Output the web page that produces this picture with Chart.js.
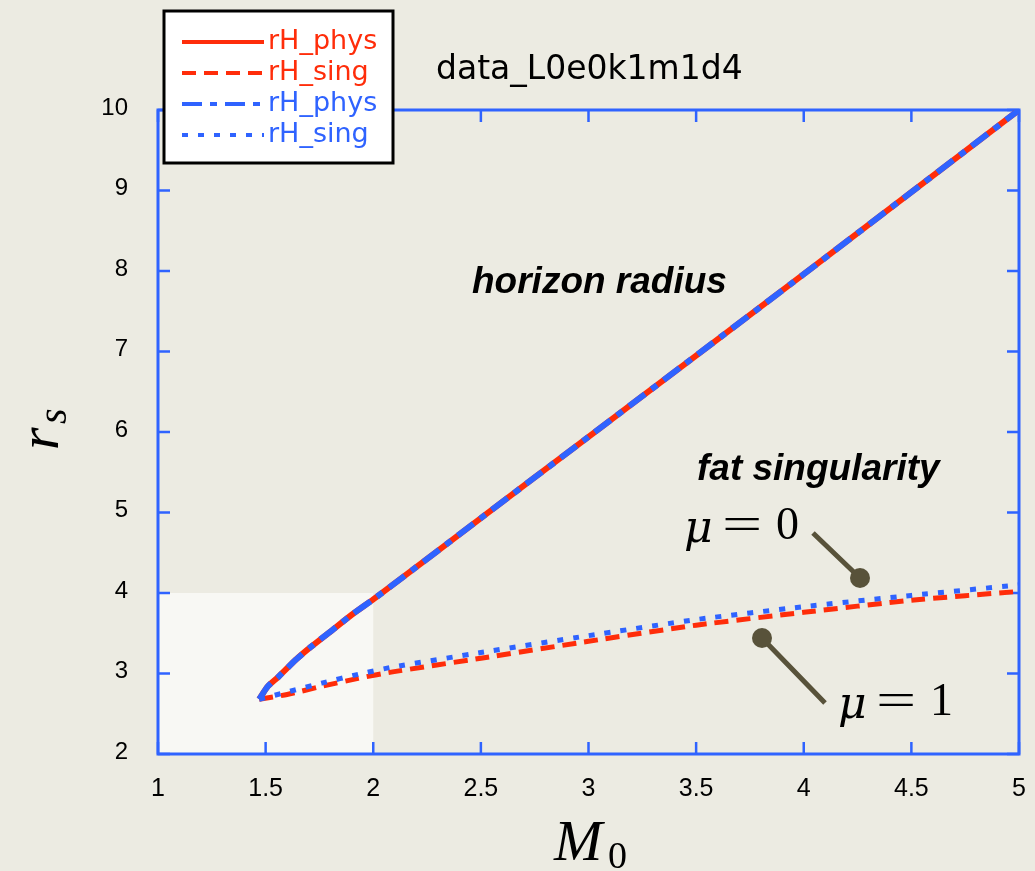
<!DOCTYPE html>
<html>
<head>
<meta charset="utf-8">
<script src="https://cdn.jsdelivr.net/npm/chart.js@4"></script>
<style>
  html, body { margin: 0; padding: 0; background: #ecebe2; }
  #wrap { width: 1035px; height: 871px; }
</style>
</head>
<body>
<div id="wrap"><canvas id="chart" width="1035" height="871"></canvas></div>
<script>
// horizon radius branch (rH_phys), red solid and blue dash-dot
const physM = [1.47, 1.51, 1.56, 1.64, 1.71, 1.81, 1.9, 2.0, 2.09, 2.5, 3.0, 3.5, 4.0, 4.5, 5.0];
const physRedR = [2.68, 2.84, 2.96, 3.17, 3.33, 3.54, 3.73, 3.92, 4.1, 4.93, 5.94, 6.95, 7.96, 8.98, 10.0];
const physBlueR = [2.68, 2.84, 2.96, 3.17, 3.33, 3.54, 3.73, 3.92, 4.1, 4.93, 5.94, 6.95, 7.96, 8.98, 10.0];
// fat singularity branch (rH_sing)
const singM = [1.47, 1.6, 1.76, 1.93, 2.09, 2.5, 3.0, 3.5, 4.0, 4.5, 5.0];
const singRedR = [2.68, 2.74, 2.84, 2.94, 3.02, 3.19, 3.4, 3.6, 3.76, 3.91, 4.02];
const singBlueR = [2.68, 2.77, 2.88, 2.99, 3.08, 3.26, 3.47, 3.67, 3.83, 3.97, 4.1];

const legendLabels = ['rH_phys', 'rH_sing', 'rH_phys', 'rH_sing'];
const RED = '#ff2d0a';
const BLUE = '#2f63ff';

const pts = (xs, ys) => xs.map((x, i) => ({ x: x, y: ys[i] }));

const paper = {
  id: 'paper',
  beforeDraw(chart) {
    const { ctx, scales: { x, y } } = chart;
    ctx.save();
    ctx.fillStyle = '#ecebe2';
    ctx.fillRect(0, 0, chart.width, chart.height);
    // light patch in the lower left
    ctx.fillStyle = '#f8f8f4';
    const x0 = x.getPixelForValue(1), x1 = x.getPixelForValue(2);
    const y0 = y.getPixelForValue(4), y1 = y.getPixelForValue(2);
    ctx.fillRect(x0, y0, x1 - x0, y1 - y0);
    ctx.restore();
  },
  beforeDatasetsDraw(chart) {
    const { ctx, chartArea: a, scales: { x, y } } = chart;
    ctx.save();
    ctx.strokeStyle = BLUE;
    ctx.lineWidth = 3;
    ctx.strokeRect(a.left, a.top, a.right - a.left, a.bottom - a.top);
    ctx.lineWidth = 2.5;
    const len = 12;
    ctx.beginPath();
    x.ticks.forEach(t => {
      const px = x.getPixelForValue(t.value);
      ctx.moveTo(px, a.bottom); ctx.lineTo(px, a.bottom - len);
      ctx.moveTo(px, a.top); ctx.lineTo(px, a.top + len);
    });
    y.ticks.forEach(t => {
      const py = y.getPixelForValue(t.value);
      ctx.moveTo(a.left, py); ctx.lineTo(a.left + len, py);
      ctx.moveTo(a.right, py); ctx.lineTo(a.right - len, py);
    });
    ctx.stroke();
    ctx.restore();
  },
  afterDraw(chart) {
    const { ctx } = chart;
    ctx.save();
    // title
    ctx.fillStyle = '#000';
    ctx.font = '33px "DejaVu Sans"';
    ctx.textBaseline = 'middle';
    ctx.fillText('data_L0e0k1m1d4', 436, 70);

    ctx.font = 'bold italic 37px "Liberation Sans"';
    ctx.fillText('horizon radius', 472, 283);
    ctx.fillText('fat singularity', 697, 470);

    // mu labels
    const mu = (val, x0, y0) => {
      ctx.font = 'italic 44px "DejaVu Serif"';
      ctx.fillText('\u03bc', x0, y0 + 4);
      ctx.font = '46px "Liberation Serif"';
      ctx.save();
      ctx.translate(x0 + 38, y0);
      ctx.scale(1.55, 1);
      ctx.fillText('=', 0, 0);
      ctx.restore();
      ctx.fillText(val, x0 + 92, y0);
    };
    mu('0', 684, 527);
    mu('1', 838, 703);

    // pointers
    ctx.strokeStyle = '#58523a';
    ctx.fillStyle = '#58523a';
    ctx.lineWidth = 5;
    ctx.beginPath();
    ctx.moveTo(813, 533); ctx.lineTo(860, 578);
    ctx.moveTo(762, 638); ctx.lineTo(825, 703);
    ctx.stroke();
    [[860, 578], [762, 638]].forEach(p => {
      ctx.beginPath(); ctx.arc(p[0], p[1], 10, 0, Math.PI * 2); ctx.fill();
    });

    // axis titles
    ctx.fillStyle = '#000';
    ctx.font = 'italic 58px "Liberation Serif"';
    ctx.textBaseline = 'alphabetic';
    ctx.fillText('M', 554, 860);
    ctx.font = '38px "Liberation Serif"';
    ctx.fillText('0', 608, 868);
    ctx.save();
    ctx.translate(58, 450);
    ctx.rotate(-Math.PI / 2);
    ctx.font = 'italic 58px "Liberation Serif"';
    ctx.fillText('r', 0, 0);
    ctx.font = 'italic 40px "Liberation Serif"';
    ctx.fillText('s', 26, 8);
    ctx.restore();

    // legend
    ctx.fillStyle = '#ffffff';
    ctx.fillRect(164, 11, 229, 152);
    ctx.strokeStyle = '#000';
    ctx.lineWidth = 3;
    ctx.strokeRect(164, 11, 229, 152);
    ctx.font = '27px "DejaVu Sans"';
    ctx.textBaseline = 'middle';
    chart.data.datasets.forEach((ds, i) => {
      const yy = 42 + i * 31;
      ctx.strokeStyle = ds.borderColor;
      ctx.lineWidth = 4;
      ctx.setLineDash(ds.borderDash || []);
      ctx.beginPath(); ctx.moveTo(182, yy); ctx.lineTo(264, yy); ctx.stroke();
      ctx.setLineDash([]);
      ctx.fillStyle = ds.borderColor;
      ctx.fillText(legendLabels[i], 268, yy);
    });
    ctx.restore();
  }
};

new Chart(document.getElementById('chart'), {
  type: 'line',
  data: {
    datasets: [
      { label: legendLabels[0], data: pts(physM, physRedR), borderColor: RED, borderWidth: 6, order: 4 },
      { label: legendLabels[1], data: pts(singM, singRedR), borderColor: RED, borderWidth: 5, borderDash: [14, 8], order: 3 },
      { label: legendLabels[2], data: pts(physM, physBlueR), borderColor: BLUE, borderWidth: 6, borderDash: [20, 8, 7, 8], order: 2 },
      { label: legendLabels[3], data: pts(singM, singBlueR), borderColor: BLUE, borderWidth: 5, borderDash: [6, 10], order: 1 }
    ]
  },
  options: {
    responsive: false,
    animation: false,
    layout: { padding: { top: 110, right: 16, bottom: 0, left: 0 } },
    elements: { point: { radius: 0 }, line: { tension: 0.2, fill: false, borderCapStyle: 'butt' } },
    plugins: { legend: { display: false }, tooltip: { enabled: false } },
    scales: {
      x: {
        type: 'linear', min: 1, max: 5,
        grid: { display: false }, border: { display: false },
        ticks: { stepSize: 0.5, padding: 12, color: '#000', font: { family: 'Liberation Sans', size: 25 },
                 callback: v => String(v) },
        afterFit: s => { s.height = 117; s.paddingRight = 0; s.paddingLeft = 0; }
      },
      y: {
        type: 'linear', min: 2, max: 10,
        grid: { display: false }, border: { display: false },
        ticks: { stepSize: 1, padding: 22, labelOffset: -2, color: '#000', font: { family: 'Liberation Sans', size: 24 } },
        afterFit: s => { s.width = 158; s.paddingTop = 0; s.paddingBottom = 0; }
      }
    }
  },
  plugins: [paper]
});
</script>
</body>
</html>
